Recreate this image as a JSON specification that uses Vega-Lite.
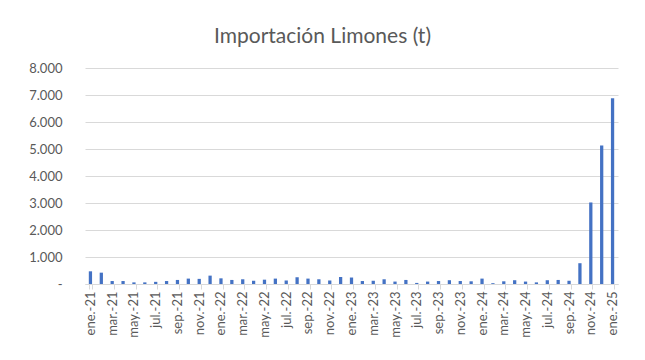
{
  "$schema": "https://vega.github.io/schema/vega-lite/v6.json",
  "width": 533,
  "height": 216,
  "autosize": {"type": "none"},
  "padding": {"left": 85, "top": 68, "right": 27, "bottom": 76},
  "background": "white",
  "title": {
    "text": "Importación Limones (t)",
    "font": "Lato",
    "fontSize": 21,
    "fontWeight": "normal",
    "color": "#595959",
    "anchor": "middle",
    "dx": -29,
    "offset": 15
  },
  "data": {
    "values": [
      {"mes": "ene.-21", "t": 470},
      {"mes": "feb.-21", "t": 420},
      {"mes": "mar.-21", "t": 110},
      {"mes": "abr.-21", "t": 110},
      {"mes": "may.-21", "t": 60},
      {"mes": "jun.-21", "t": 60},
      {"mes": "jul.-21", "t": 80},
      {"mes": "ago.-21", "t": 110},
      {"mes": "sep.-21", "t": 150},
      {"mes": "oct.-21", "t": 200},
      {"mes": "nov.-21", "t": 190},
      {"mes": "dic.-21", "t": 310},
      {"mes": "ene.-22", "t": 210},
      {"mes": "feb.-22", "t": 150},
      {"mes": "mar.-22", "t": 175},
      {"mes": "abr.-22", "t": 120},
      {"mes": "may.-22", "t": 160},
      {"mes": "jun.-22", "t": 200},
      {"mes": "jul.-22", "t": 130},
      {"mes": "ago.-22", "t": 250},
      {"mes": "sep.-22", "t": 200},
      {"mes": "oct.-22", "t": 175},
      {"mes": "nov.-22", "t": 130},
      {"mes": "dic.-22", "t": 260},
      {"mes": "ene.-23", "t": 240},
      {"mes": "feb.-23", "t": 110},
      {"mes": "mar.-23", "t": 120},
      {"mes": "abr.-23", "t": 175},
      {"mes": "may.-23", "t": 90},
      {"mes": "jun.-23", "t": 150},
      {"mes": "jul.-23", "t": 40},
      {"mes": "ago.-23", "t": 90},
      {"mes": "sep.-23", "t": 110},
      {"mes": "oct.-23", "t": 140},
      {"mes": "nov.-23", "t": 110},
      {"mes": "dic.-23", "t": 100},
      {"mes": "ene.-24", "t": 200},
      {"mes": "feb.-24", "t": 30},
      {"mes": "mar.-24", "t": 100},
      {"mes": "abr.-24", "t": 140},
      {"mes": "may.-24", "t": 90},
      {"mes": "jun.-24", "t": 60},
      {"mes": "jul.-24", "t": 140},
      {"mes": "ago.-24", "t": 150},
      {"mes": "sep.-24", "t": 120},
      {"mes": "oct.-24", "t": 770},
      {"mes": "nov.-24", "t": 3020},
      {"mes": "dic.-24", "t": 5130},
      {"mes": "ene.-25", "t": 6880}
    ]
  },
  "mark": {"type": "bar", "color": "#4472C4"},
  "encoding": {
    "x": {
      "field": "mes",
      "type": "nominal",
      "sort": null,
      "scale": {"paddingInner": 0.7, "paddingOuter": 0.35},
      "axis": {
        "title": null,
        "values": ["ene.-21", "mar.-21", "may.-21", "jul.-21", "sep.-21", "nov.-21",
                   "ene.-22", "mar.-22", "may.-22", "jul.-22", "sep.-22", "nov.-22",
                   "ene.-23", "mar.-23", "may.-23", "jul.-23", "sep.-23", "nov.-23",
                   "ene.-24", "mar.-24", "may.-24", "jul.-24", "sep.-24", "nov.-24",
                   "ene.-25"],
        "labelAngle": -90,
        "labelAlign": "right",
        "labelBaseline": "middle",
        "labelFont": "Lato",
        "labelFontSize": 13,
        "labelColor": "#595959",
        "labelPadding": 2,
        "tickBand": "extent",
        "tickSize": 5,
        "tickColor": "#d9d9d9",
        "domainColor": "#d9d9d9",
        "grid": false
      }
    },
    "y": {
      "field": "t",
      "type": "quantitative",
      "scale": {"domain": [0, 8000]},
      "axis": {
        "title": null,
        "values": [0, 1000, 2000, 3000, 4000, 5000, 6000, 7000, 8000],
        "labelExpr": "datum.value === 0 ? '-\u00a0\u00a0\u00a0\u00a0' : replace(format(datum.value, ',d'), ',', '.')",
        "labelFont": "Lato",
        "labelFontSize": 13,
        "labelColor": "#595959",
        "labelPadding": 23,
        "ticks": false,
        "domain": false,
        "grid": true,
        "gridColor": "#d9d9d9",
        "gridWidth": 1
      }
    }
  },
  "config": {
    "view": {"stroke": null}
  }
}
